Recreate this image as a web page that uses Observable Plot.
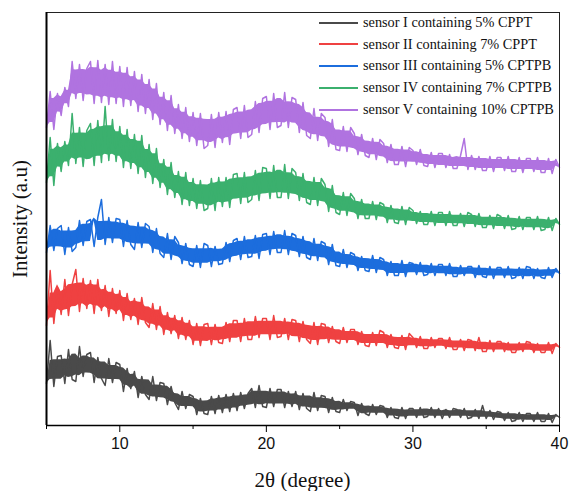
<!DOCTYPE html>
<html>
<head>
<meta charset="utf-8">
<script src="https://cdn.jsdelivr.net/npm/d3@7"></script>
<script src="https://cdn.jsdelivr.net/npm/@observablehq/plot@0.6"></script>
<style>
  body { margin: 0; background: #fff; }
  #wrap { position: relative; width: 570px; height: 491px; }
  .serif { font-family: "Liberation Serif", "Times New Roman", serif; color: #111; }
  #legend { position: absolute; left: 319px; top: 11.8px; font-size: 14.3px; }
  #legend .row { height: 21.85px; line-height: 21.85px; white-space: nowrap; }
  #legend .sw { display: inline-block; width: 38.5px; height: 2px; vertical-align: middle; margin-right: 5.5px; position: relative; top: -1px; }
  .title { position: absolute; font-size: 21px; white-space: nowrap; line-height: 1; }
  #xtitle { left: 302.5px; top: 480px; transform: translate(-50%, -50%); }
  #ytitle { left: 20px; top: 218.5px; transform: translate(-50%, -50%) rotate(-90deg); }
</style>
</head>
<body>
<div id="wrap"></div>
<script>
// 2θ sampling grid (degrees)
const thetaStart = 5, thetaStep = 0.25, thetaCount = 141;
const twoTheta = d3.range(thetaCount).map(i => thetaStart + i * thetaStep);

const seriesNames = [
  "sensor I containing 5% CPPT",
  "sensor II containing 7% CPPT",
  "sensor III containing 5% CPTPB",
  "sensor IV containing 7% CPTPB",
  "sensor V containing 10% CPTPB"
];
const seriesColors = ["#4a4a4a", "#ef4141", "#1c6ddd", "#3bb06e", "#b073e0"];

// Intensity (a.u., stacked offsets as drawn), one value per 0.25°
const sensorI = [
  42,85,39,69, 70,42,76,46, 44,79,49,71, 73,43,68,47, 40,67,43,63,
  61,34,57,37, 54,28,49,31, 26,49,25,43, 42,21,39,23, 16,34,17,31,
  29,11,27,12, 11,29,12,30, 13,31,14,32, 15,33,17,32, 37,18,40,19,
  18,37,19,36, 36,18,34,19, 34,16,32,17, 14,33,15,30, 29,13,28,14,
  13,26,15,24, 23,10,22,12, 10,21,11,20, 19,8,18,8, 7,18,7,17,
  17,8,18,8, 9,18,8,17, 7,16,8,17, 16,8,17,7, 8,16,7,20,
  7,15,6,14, 13,5,13,4, 5,13,4,12, 12,4,13,4, 4,12,3,11, 8
];
const sensorII = [
  100,155,102,138, 111,146,110,141, 156,114,147,117, 145,112,146,115, 140,109,137,112,
  135,105,132,106, 127,101,128,103, 98,122,96,119, 91,113,92,110, 87,108,86,105,
  81,102,80,101, 102,81,101,83, 82,103,84,105, 105,84,107,86, 86,109,88,107,
  107,86,110,88, 89,107,86,106, 105,84,104,86, 82,103,81,102, 101,83,99,84,
  82,98,83,96, 96,81,94,80, 79,93,80,95, 93,78,91,78, 77,90,76,92,
  88,78,89,77, 77,88,78,87, 87,77,88,76, 76,86,75,86, 85,75,88,74,
  74,85,74,84, 84,74,83,73, 73,83,74,84, 83,73,82,73, 73,83,72,82, 78
];
const sensorIII = [
  173,200,175,197, 200,171,198,174, 178,205,180,204, 206,179,208,226, 181,208,183,207,
  206,179,205,181, 176,203,178,202, 199,173,197,172, 168,192,166,189, 183,162,182,161,
  159,180,158,182, 180,159,179,161, 162,183,164,185, 187,166,189,168, 169,190,167,191,
  192,171,194,173, 173,195,171,192, 190,169,189,168, 166,187,165,184, 182,161,181,160,
  159,176,158,173, 171,155,169,155, 154,170,153,168, 166,150,164,150, 150,165,149,163,
  162,151,163,150, 151,162,150,161, 161,150,162,149, 149,160,150,159, 159,148,160,149,
  148,159,147,158, 158,148,159,147, 148,158,147,159, 158,147,157,148, 147,158,148,157, 152
];
const sensorIV = [
  243,288,240,282, 254,284,260,312, 262,298,259,295, 302,260,305,263, 319,265,306,264,
  299,258,296,257, 291,252,290,248, 281,242,277,238, 266,231,263,228, 254,221,253,220,
  247,217,245,215, 217,247,215,248, 219,248,218,251, 252,222,253,223, 226,255,225,258,
  257,227,260,228, 228,261,227,257, 253,225,252,223, 221,248,220,247, 241,214,240,213,
  211,233,210,232, 227,207,226,207, 207,224,206,223, 221,203,220,203, 202,219,201,218,
  215,202,214,201, 201,214,200,213, 213,200,214,200, 200,212,199,213, 211,199,212,198,
  198,210,197,211, 209,197,210,196, 197,209,196,208, 208,196,209,195, 196,208,195,207, 201
];
const sensorV = [
  298,334,296,332, 310,338,319,364, 327,361,325,357, 364,322,365,323, 361,321,364,322,
  359,319,358,320, 354,314,351,312, 346,306,342,301, 333,295,330,292, 321,287,318,284,
  313,280,312,277, 280,311,278,313, 283,314,281,316, 318,287,320,288, 291,324,293,327,
  329,296,332,298, 300,333,298,328, 326,293,323,290, 287,317,285,312, 308,279,306,276,
  275,299,274,298, 292,271,291,270, 268,287,266,286, 282,263,281,261, 261,279,259,278,
  275,261,276,260, 259,273,258,272, 272,258,271,257, 257,270,287,256, 270,256,269,255,
  255,269,254,268, 268,255,269,254, 254,268,253,267, 267,254,268,253, 253,267,252,266, 258
];

const majorTicks = [10, 20, 30, 40];
const minorTicks = [5, 15, 25, 35];
const xTitle = "2θ (degree)";
const yTitle = "Intensity (a.u)";

const allSeries = [sensorI, sensorII, sensorIII, sensorIV, sensorV];
const rows = [];
const bands = [];
allSeries.forEach((vals, s) => {
  vals.forEach((v, i) => {
    rows.push({x: twoTheta[i], y: v, s: seriesNames[s]});
    // core of the noise ribbon, from the neighbouring readings
    const nb = vals.slice(Math.max(0, i - 2), Math.min(vals.length, i + 3)).sort((a, b) => a - b);
    const lo = nb[1], hi = nb[nb.length - 2], inset = 0.15 * (hi - lo);
    bands.push({x: twoTheta[i], lo: lo + inset, hi: hi - inset, s: seriesNames[s]});
  });
});

const chart = Plot.plot({
  width: 570,
  height: 491,
  marginLeft: 46,
  marginRight: 11,
  marginTop: 12,
  marginBottom: 66,
  style: {background: "#fff", fontFamily: "Liberation Sans, Arial, sans-serif"},
  x: {domain: [5, 40]},
  y: {domain: [0, 413]},
  color: {domain: seriesNames, range: seriesColors},
  marks: [
    Plot.areaY(bands, {x: "x", y1: "lo", y2: "hi", z: "s", fill: "s"}),
    Plot.line(rows, {x: "x", y: "y", z: "s", stroke: "s", strokeWidth: 1.5}),
    Plot.frame({stroke: "#222", strokeWidth: 1}),
    Plot.ruleX([5], {stroke: "#000", strokeWidth: 2}),
    Plot.ruleY([0], {stroke: "#000", strokeWidth: 1.5}),
    Plot.axisY({ticks: [], label: null}),
    Plot.axisX({ticks: majorTicks, tickSize: 7, tickPadding: 5, fontSize: 16, label: null, stroke: "#000", fill: "#111"}),
    Plot.axisX({ticks: minorTicks, tickSize: 4, text: null, label: null, stroke: "#000"})
  ]
});

const wrap = document.getElementById("wrap");
wrap.appendChild(chart);

const xt = document.createElement("div");
xt.id = "xtitle"; xt.className = "title serif"; xt.textContent = xTitle;
wrap.appendChild(xt);
const yt = document.createElement("div");
yt.id = "ytitle"; yt.className = "title serif"; yt.textContent = yTitle;
wrap.appendChild(yt);

const legend = document.createElement("div");
legend.id = "legend";
legend.className = "serif";
seriesNames.forEach((name, i) => {
  const row = document.createElement("div");
  row.className = "row";
  const sw = document.createElement("span");
  sw.className = "sw";
  sw.style.background = seriesColors[i];
  row.appendChild(sw);
  row.appendChild(document.createTextNode(name));
  legend.appendChild(row);
});
wrap.appendChild(legend);
</script>
</body>
</html>
